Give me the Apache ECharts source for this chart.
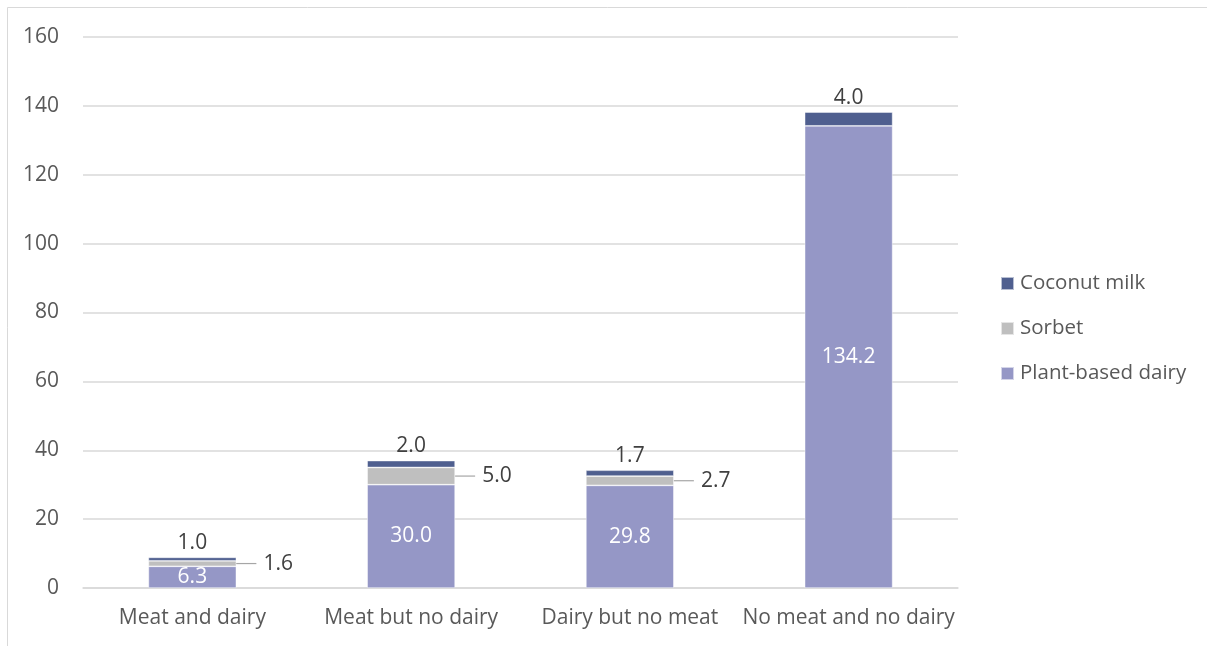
<!DOCTYPE html>
<html>
<head>
<meta charset="utf-8">
<script src="https://cdn.jsdelivr.net/npm/echarts@6/dist/echarts.min.js"></script>
<style>
html,body{margin:0;padding:0;background:#fff;}
#chart{width:1207px;height:646px;}
</style>
</head>
<body>
<div id="chart"></div>
<script>
const categories = ['Meat and dairy', 'Meat but no dairy', 'Dairy but no meat', 'No meat and no dairy'];
const plantBased = [6.3, 30.0, 29.8, 134.2];
const sorbet = [1.6, 5.0, 2.7, null];
const coconutMilk = [1.0, 2.0, 1.7, 4.0];
const yTicks = { min: 0, max: 160, interval: 20 };

const FONT = '"Open Sans", sans-serif';
const chart = echarts.init(document.getElementById('chart'), null, { renderer: 'canvas' });

const fmt = p => (p.value == null ? '' : Number(p.value).toFixed(1));

chart.setOption({
  animation: false,
  backgroundColor: '#fff',
  textStyle: { fontFamily: FONT },
  graphic: [{
    type: 'rect',
    shape: { x: 7.5, y: 7.5, width: 1300, height: 700 },
    style: { fill: 'none', stroke: '#d9d9d9', lineWidth: 1 },
    silent: true
  }],
  grid: { left: 83, right: 249, top: 37, bottom: 58, containLabel: false },
  legend: {
    orient: 'vertical',
    left: 995,
    top: 268,
    itemWidth: 13,
    itemHeight: 13,
    itemGap: 24,
    icon: 'rect',
    data: ['Coconut milk', 'Sorbet', 'Plant-based dairy'],
    textStyle: { color: '#595959', fontSize: 20.5, fontFamily: FONT, padding: [0, 0, 0, 1] }
  },
  xAxis: {
    type: 'category',
    data: categories,
    axisLine: { lineStyle: { color: '#d9d9d9', width: 1.5 } },
    axisTick: { show: false },
    axisLabel: { interval: 0, color: '#595959', fontSize: 21, margin: 20, fontFamily: FONT }
  },
  yAxis: {
    type: 'value',
    min: yTicks.min,
    max: yTicks.max,
    interval: yTicks.interval,
    axisLine: { show: false },
    axisTick: { show: false },
    axisLabel: { color: '#595959', fontSize: 21, margin: 24, fontFamily: FONT },
    splitLine: { lineStyle: { color: '#d9d9d9', width: 1.5 } }
  },
  series: [
    {
      name: 'Plant-based dairy',
      type: 'bar',
      stack: 'total',
      barWidth: 88,
      data: plantBased,
      itemStyle: { color: '#9597C6', borderColor: 'rgba(255,255,255,0.6)', borderWidth: 0.75 },
      label: { show: true, position: 'inside', color: '#ffffff', fontSize: 21, fontFamily: FONT, formatter: fmt }
    },
    {
      name: 'Sorbet',
      type: 'bar',
      stack: 'total',
      barWidth: 88,
      data: sorbet,
      itemStyle: { color: '#BFBFBF', borderColor: 'rgba(255,255,255,0.6)', borderWidth: 0.75 },
      label: {
        show: true, position: 'right', distance: 4, color: '#404040', fontSize: 21, fontFamily: FONT,
        formatter: p => (p.value == null ? '' : '{gap| }' + Number(p.value).toFixed(1)),
        rich: { gap: { width: 7, fontSize: 21 } }
      },
      labelLayout: { dx: 16 },
      labelLine: { show: true, lineStyle: { color: '#A6A6A6', width: 1.2 } }
    },
    {
      name: 'Coconut milk',
      type: 'bar',
      stack: 'total',
      barWidth: 88,
      data: coconutMilk,
      itemStyle: { color: '#4F5F8F', borderColor: 'rgba(255,255,255,0.6)', borderWidth: 0.75 },
      label: { show: true, position: 'top', distance: 4, color: '#404040', fontSize: 21, fontFamily: FONT, formatter: fmt }
    }
  ]
});
</script>
</body>
</html>
